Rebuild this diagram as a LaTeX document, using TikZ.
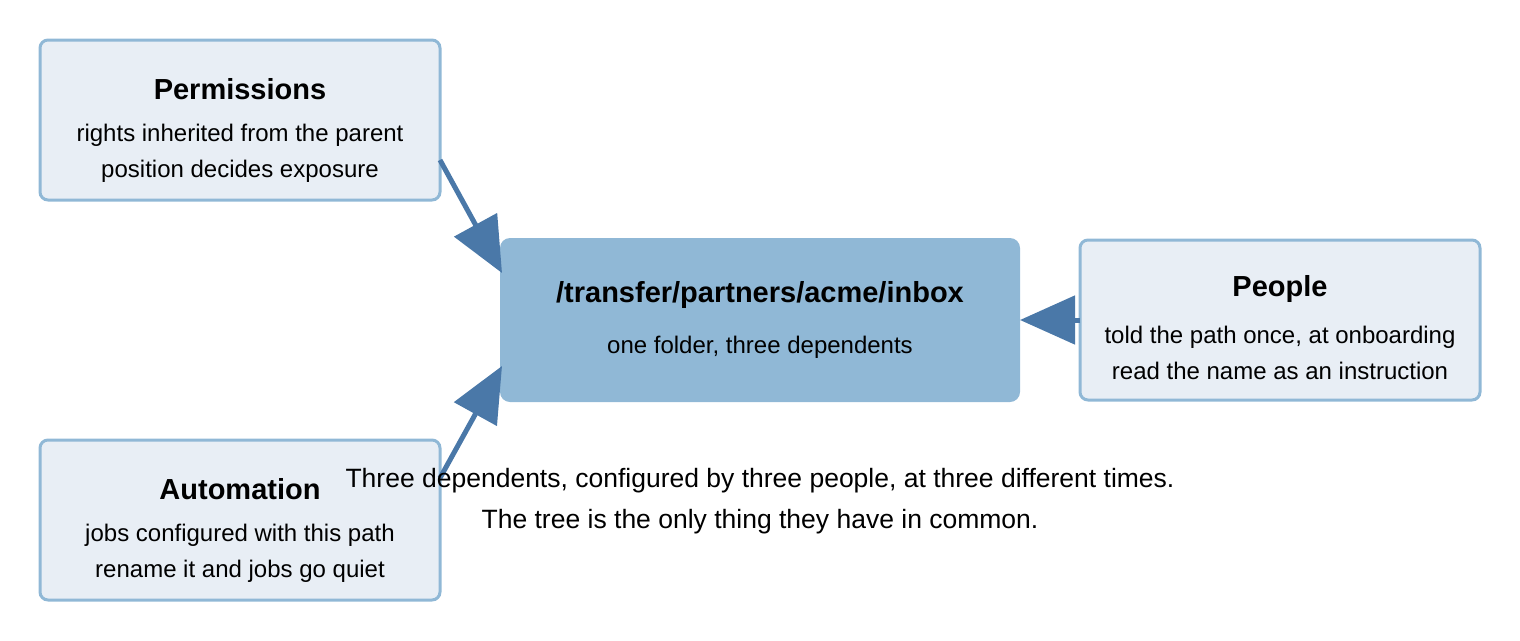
\documentclass[tikz,border=0pt]{standalone}
\usepackage{fontspec}
\setmainfont{Liberation Sans}
\usetikzlibrary{arrows.meta}
\definecolor{boxfill}{HTML}{E8EEF5}
\definecolor{boxline}{HTML}{90B8D6}
\definecolor{arr}{HTML}{4A78A8}
\begin{document}
\begin{tikzpicture}[x=1pt,y=-1pt,
  side/.style={draw=boxline,fill=boxfill,line width=3pt,rounded corners=8pt,minimum width=400pt,minimum height=160pt,inner sep=0pt},
  center/.style={fill=boxline,rounded corners=10pt,minimum width=520pt,minimum height=164pt,inner sep=0pt},
  ttl/.style={font=\fontsize{29}{34}\selectfont\bfseries},
  bdy/.style={font=\fontsize{24}{36}\selectfont,align=center},
  capt/.style={font=\fontsize{26.5}{41}\selectfont,align=center},
  link/.style={draw=arr,line width=5pt,-{Triangle[length=55pt,width=48pt]}}]
\useasboundingbox (0,0) rectangle (1520,640);
\node[side] (perm) at (240,120) {};
\node[side] (auto) at (240,520) {};
\node[side] (peop) at (1280,320) {};
\node[center] (ctr) at (760,320) {};
\node[ttl] (pt) at (240,89) {Permissions};
\node[bdy] (pb) at (240,153) {rights inherited from the parent\\position decides exposure};
\node[ttl] (at) at (240,489) {Automation};
\node[bdy] (ab) at (240,553) {jobs configured with this path\\rename it and jobs go quiet};
\node[ttl] (ppt) at (1280,289) {People};
\node[bdy] (ppb) at (1280,353) {told the path once, at onboarding\\read the name as an instruction};
\node[ttl] (ct) at (760,295) {/transfer/partners/acme/inbox};
\node[bdy] (cb) at (760,347) {one folder, three dependents};
\coordinate (p1) at (440,160); \coordinate (p2) at (502,273);
\coordinate (a1) at (440,478); \coordinate (a2) at (502,366);
\coordinate (q1) at (1080,320); \coordinate (q2) at (1020,320);
\draw[link] (p1) -- (p2);
\draw[link] (a1) -- (a2);
\draw[link] (q1) -- (q2);
\node[capt] (cap) at (760,501) {Three dependents, configured by three people, at three different times.\\The tree is the only thing they have in common.};
\end{tikzpicture}
\end{document}
